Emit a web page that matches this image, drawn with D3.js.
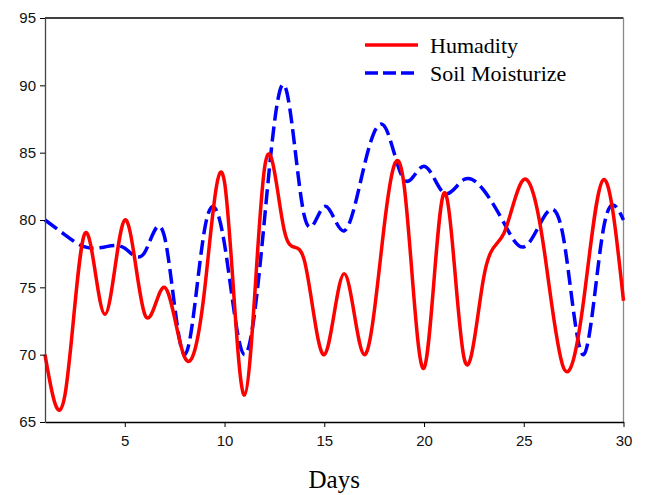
<!DOCTYPE html>
<html>
<head>
<meta charset="utf-8">
<script src="https://cdn.jsdelivr.net/npm/d3@7"></script>
<style>
  body { margin: 0; background: #fff; }
  svg { display: block; }
</style>
</head>
<body>
<div id="chart"></div>
<script>
const days = d3.range(1, 31)
const humidity = [70, 67, 79, 73, 80, 73, 75, 69.8, 74.8, 82.8,
  67, 83.8, 79.2, 77, 70, 76, 70, 79.5, 82.6, 69,
  82, 69.8, 75.8, 79, 83, 78, 69, 74, 83, 74]
const soilMoisture = [80, 78.9, 78, 78, 77.9, 77.6, 78.7, 70, 79.3, 78.2,
  70, 80, 90, 80.3, 81, 79.2, 84, 87, 83, 84,
  82, 83, 82.2, 79.8, 78, 80.2, 78.6, 70, 79.4, 80]
const xTicks = [5, 10, 15, 20, 25, 30]
const yTicks = [65, 70, 75, 80, 85, 90, 95]
const seriesNames = ['Humadity', 'Soil Moisturize']

const width = 645
const height = 495
const margin = { top: 18, right: 21.5, bottom: 73, left: 45 }

const svg = d3.select('#chart').append('svg')
  .attr('width', width)
  .attr('height', height)

const x = d3.scaleLinear().domain([1, 30]).range([margin.left, width - margin.right])
const y = d3.scaleLinear().domain([65, 95]).range([height - margin.bottom, margin.top])

// frame: top and right edges
svg.append('line')
  .attr('x1', x(1)).attr('x2', x(30))
  .attr('y1', y(95)).attr('y2', y(95))
  .style('stroke', '#000').style('stroke-width', 1.3)
svg.append('line')
  .attr('x1', x(30)).attr('x2', x(30))
  .attr('y1', y(95)).attr('y2', y(65))
  .style('stroke', '#888').style('stroke-width', 1.3)

const line = d3.line()
  .x((d, i) => x(days[i]))
  .y(d => y(d))
  .curve(d3.curveNatural)

svg.append('path')
  .datum(soilMoisture)
  .attr('d', line)
  .style('fill', 'none')
  .style('stroke', '#0000ff')
  .style('stroke-width', 3.5)
  .style('stroke-dasharray', '15,6')

svg.append('path')
  .datum(humidity)
  .attr('d', line)
  .style('fill', 'none')
  .style('stroke', '#ff0000')
  .style('stroke-width', 3.5)

const xAxis = svg.append('g')
  .attr('transform', `translate(0,${y(65)})`)
  .call(d3.axisBottom(x).tickValues(xTicks).tickSize(5).tickSizeOuter(0).tickPadding(8))
xAxis.select('.domain').style('stroke-width', 1.3)

const yAxis = svg.append('g')
  .attr('transform', `translate(${x(1)},0)`)
  .call(d3.axisLeft(y).tickValues(yTicks).tickSize(5).tickSizeOuter(0).tickPadding(4))
yAxis.select('.domain').style('stroke', '#444').style('stroke-width', 1.3)

svg.selectAll('.tick text')
  .style('font-family', '"Liberation Sans", Arial, sans-serif')
  .style('font-size', '15px')
  .style('fill', '#111')

svg.append('text')
  .attr('x', (x(1) + x(30)) / 2)
  .attr('y', 488)
  .attr('text-anchor', 'middle')
  .style('font-family', '"Liberation Serif", "Times New Roman", serif')
  .style('font-size', '25px')
  .text('Days')

// legend
const legend = svg.append('g').attr('transform', 'translate(365,45)')
const legendRows = legend.selectAll('.legend-row')
  .data(seriesNames)
  .enter()
  .append('g')
    .attr('class', 'legend-row')
    .attr('transform', (d, i) => `translate(0,${i * 28})`)

legendRows.append('line')
  .attr('x1', 0).attr('x2', 53)
  .attr('y1', 0).attr('y2', 0)
  .style('stroke', (d, i) => i === 0 ? '#ff0000' : '#0000ff')
  .style('stroke-width', 3.5)
  .style('stroke-dasharray', (d, i) => i === 0 ? null : '13,5')

legendRows.append('text')
  .attr('x', 65)
  .attr('y', 8)
  .style('font-family', '"Liberation Serif", "Times New Roman", serif')
  .style('font-size', '22px')
  .text(d => d)
</script>
</body>
</html>
